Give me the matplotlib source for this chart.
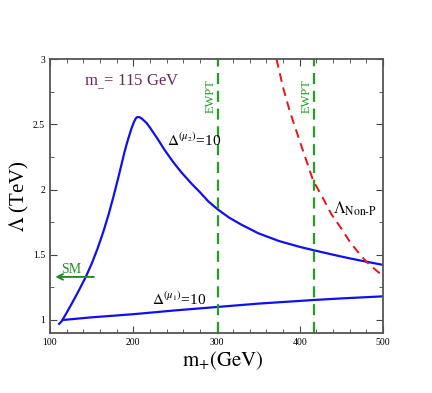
import numpy as np
import matplotlib
matplotlib.use('Agg')
from matplotlib import pyplot as plt
from matplotlib.ticker import MultipleLocator

plt.rcParams['font.family'] = ['Liberation Serif', 'DejaVu Serif']
plt.rcParams['mathtext.fontset'] = 'stix'

# curve: Delta^(mu2) = 10
mu2_x = [111, 114, 120, 127, 135, 143, 150, 157, 164, 170, 176, 182, 186, 190,
         194, 198, 201, 203, 205, 207, 210, 216, 220, 228, 238, 248, 258, 270,
         280, 290, 302, 315, 330, 350, 375, 400, 417, 440, 460, 482, 500]
mu2_y = [0.97, 0.99, 1.055, 1.135, 1.23, 1.33, 1.43, 1.545, 1.675, 1.80, 1.94, 2.09, 2.195, 2.30,
         2.39, 2.47, 2.52, 2.545, 2.556, 2.555, 2.545, 2.51, 2.475, 2.40, 2.30, 2.21, 2.13, 2.045,
         1.98, 1.91, 1.845, 1.785, 1.73, 1.665, 1.605, 1.56, 1.534, 1.50, 1.472, 1.444, 1.422]

# Delta^(mu1) = 10
mu1_x = [116, 150, 200, 250, 302, 350, 417, 450, 500]
mu1_y = [1.00, 1.02, 1.044, 1.073, 1.10, 1.125, 1.153, 1.165, 1.181]

# Lambda Non-P
np_x = [372, 380, 388, 400, 416, 429, 438, 450, 460, 470, 480, 490, 500]
np_y = [3.0, 2.78, 2.60, 2.37, 2.07, 1.92, 1.81, 1.70, 1.60, 1.52, 1.446, 1.39, 1.336]

ewpt_x = [302, 417]

fig = plt.figure(figsize=(4.32, 3.93), dpi=100)
ax = fig.add_axes([0.1157, 0.1527, 0.771, 0.697])

ax.plot(mu2_x, mu2_y, color='#1010ee', lw=1.6)
ax.plot(mu1_x, mu1_y, color='#1010ee', lw=1.6)
ax.plot(np_x, np_y, color='#ee1111', lw=1.4, dashes=(4.5, 3))
for xv in ewpt_x:
    ax.axvline(xv, color='#22a022', lw=1.6, dashes=(5, 3))
    ax.text(xv - 9, 2.72, 'EWPT', color='#22a022', rotation=90,
            ha='center', va='center', fontsize=9)

ax.text(141, 2.82, r'm$_{\_}$= 115 GeV', color='#6b2460', fontsize=12, va='center')
ax.text(240, 2.38, r'$\Delta^{(\mu_2)}$=10', fontsize=11, va='center')
ax.text(222, 1.16, r'$\Delta^{(\mu_1)}$=10', fontsize=11, va='center')
ax.text(440, 1.85, r'$\Lambda_{\rm Non\text{-}P}$', fontsize=12, va='center')
ax.annotate('', xy=(103, 1.33), xytext=(156, 1.33),
            arrowprops=dict(arrowstyle='->', color='#228b22', lw=1.4))
ax.text(126, 1.39, 'SM', color='#228b22', fontsize=10, ha='center', va='center')

ax.set_xlim(100, 500)
ax.set_ylim(0.9, 3)
ax.xaxis.set_major_locator(MultipleLocator(100))
ax.xaxis.set_minor_locator(MultipleLocator(20))
ax.yaxis.set_minor_locator(MultipleLocator(0.25))
ax.set_yticks([1, 1.5, 2, 2.5, 3])
ax.set_yticklabels(['1', '1.5', '2', '2.5', '3'])
ax.tick_params(which='both', direction='in', top=True, right=True, labelsize=7, colors='#444444')
ax.tick_params(which='major', length=5)
ax.tick_params(which='minor', length=3)
for s in ax.spines.values():
    s.set_linewidth(1.3)
    s.set_color('#555555')
for lab in ax.get_xticklabels() + ax.get_yticklabels():
    lab.set_color('black')

ax.set_xlabel(r'$\mathrm{m}_{+}\mathrm{(GeV)}$', fontsize=15, labelpad=1)
ax.xaxis.set_label_coords(0.52, -0.06, transform=ax.transAxes)
ax.xaxis.label.set_va('top')
ax.set_ylabel(r'$\Lambda$ (TeV)', fontsize=15, labelpad=1)

fig.savefig('out.png', dpi=100)
